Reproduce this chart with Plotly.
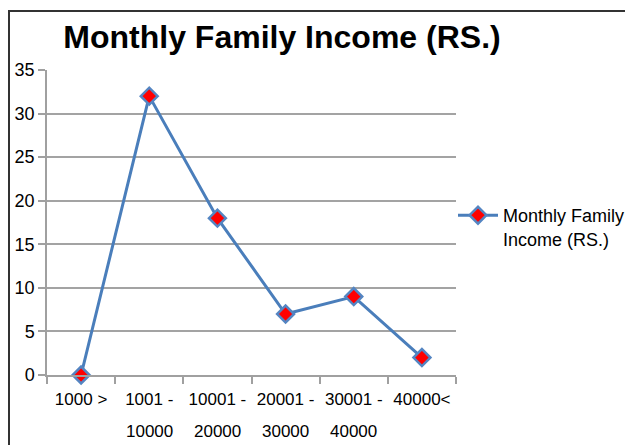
import plotly.graph_objects as go

categories = ["1000 >", "1001 - 10000", "10001 - 20000", "20001 - 30000", "30001 - 40000", "40000<"]
tick_line1 = ["1000 >", "1001 -", "10001 -", "20001 -", "30001 -", "40000<"]
tick_line2 = ["", "10000", "20000", "30000", "40000", ""]
values = [0, 32, 18, 7, 9, 2]
series_name = "Monthly Family<br>Income (RS.)"
title_text = "Monthly Family Income (RS.)"

# page has an 8px body margin; figure coordinates = screen - 8
W, H = 625, 437
L, R, T, B = 39, 177, 62, 70
pw, ph = W - L - R, H - T - B

def px_x(x):
    return (x - L) / pw

def px_y(y):
    return (H - B - y) / ph

fig = go.Figure()
fig.add_trace(go.Scatter(
    x=categories, y=values, mode="lines+markers", name=series_name,
    line=dict(color="#4a7ebb", width=3),
    marker=dict(symbol="diamond", size=13, color="#ff0000",
                line=dict(color="#5485c2", width=2.5)),
    cliponaxis=False,
    showlegend=True,
))

annotations = []
for c, t in zip(categories, tick_line2):
    if t:
        annotations.append(dict(x=c, xref="x", y=px_y(424), yref="paper",
                                text=t, showarrow=False, xanchor="center",
                                yanchor="middle", font=dict(size=17, color="#000000")))

fig.update_layout(
    width=W, height=H,
    margin=dict(l=L, r=R, t=T, b=B, pad=0, autoexpand=False),
    paper_bgcolor="white", plot_bgcolor="white",
    font=dict(family="Liberation Sans", color="#000000", size=17),
    title=dict(text="<b>" + title_text + "</b>", x=274 / W, xref="container",
               xanchor="center", y=1 - 28.5 / H, yref="container", yanchor="middle",
               font=dict(family="Liberation Sans", size=32, color="#000000")),
    showlegend=True,
    legend=dict(x=px_x(445), y=px_y(189), xanchor="left", yanchor="top",
                valign="top", font=dict(size=18, color="#000000"),
                bgcolor="rgba(0,0,0,0)", itemwidth=40),
    xaxis=dict(type="category", range=[-0.5, 5.5], tickson="boundaries",
               tickmode="array", tickvals=categories, ticktext=tick_line1,
               tickangle=0, automargin=False, ticklabelstandoff=8,
               ticks="outside", ticklen=7, tickcolor="#a0a0a0", tickwidth=1.5,
               showgrid=False, showline=True, linecolor="#a0a0a0", linewidth=1.5,
               tickfont=dict(size=17), zeroline=False),
    yaxis=dict(range=[0, 35], dtick=5, ticks="outside", ticklen=7,
               tickcolor="#a0a0a0", tickwidth=1.5, automargin=False,
               showgrid=True, gridcolor="#a3a3a3", gridwidth=1.8,
               showline=True, linecolor="#a0a0a0", linewidth=1.5,
               zeroline=False, tickfont=dict(size=18)),
    annotations=annotations,
    shapes=[
        dict(type="line", xref="paper", yref="paper",
             x0=px_x(1), x1=px_x(1), y0=px_y(3), y1=px_y(437),
             line=dict(color="#333333", width=2)),
        dict(type="line", xref="paper", yref="paper",
             x0=px_x(0), x1=px_x(625), y0=px_y(3), y1=px_y(3),
             line=dict(color="#333333", width=2)),
    ],
)

fig.write_html("out.html")
